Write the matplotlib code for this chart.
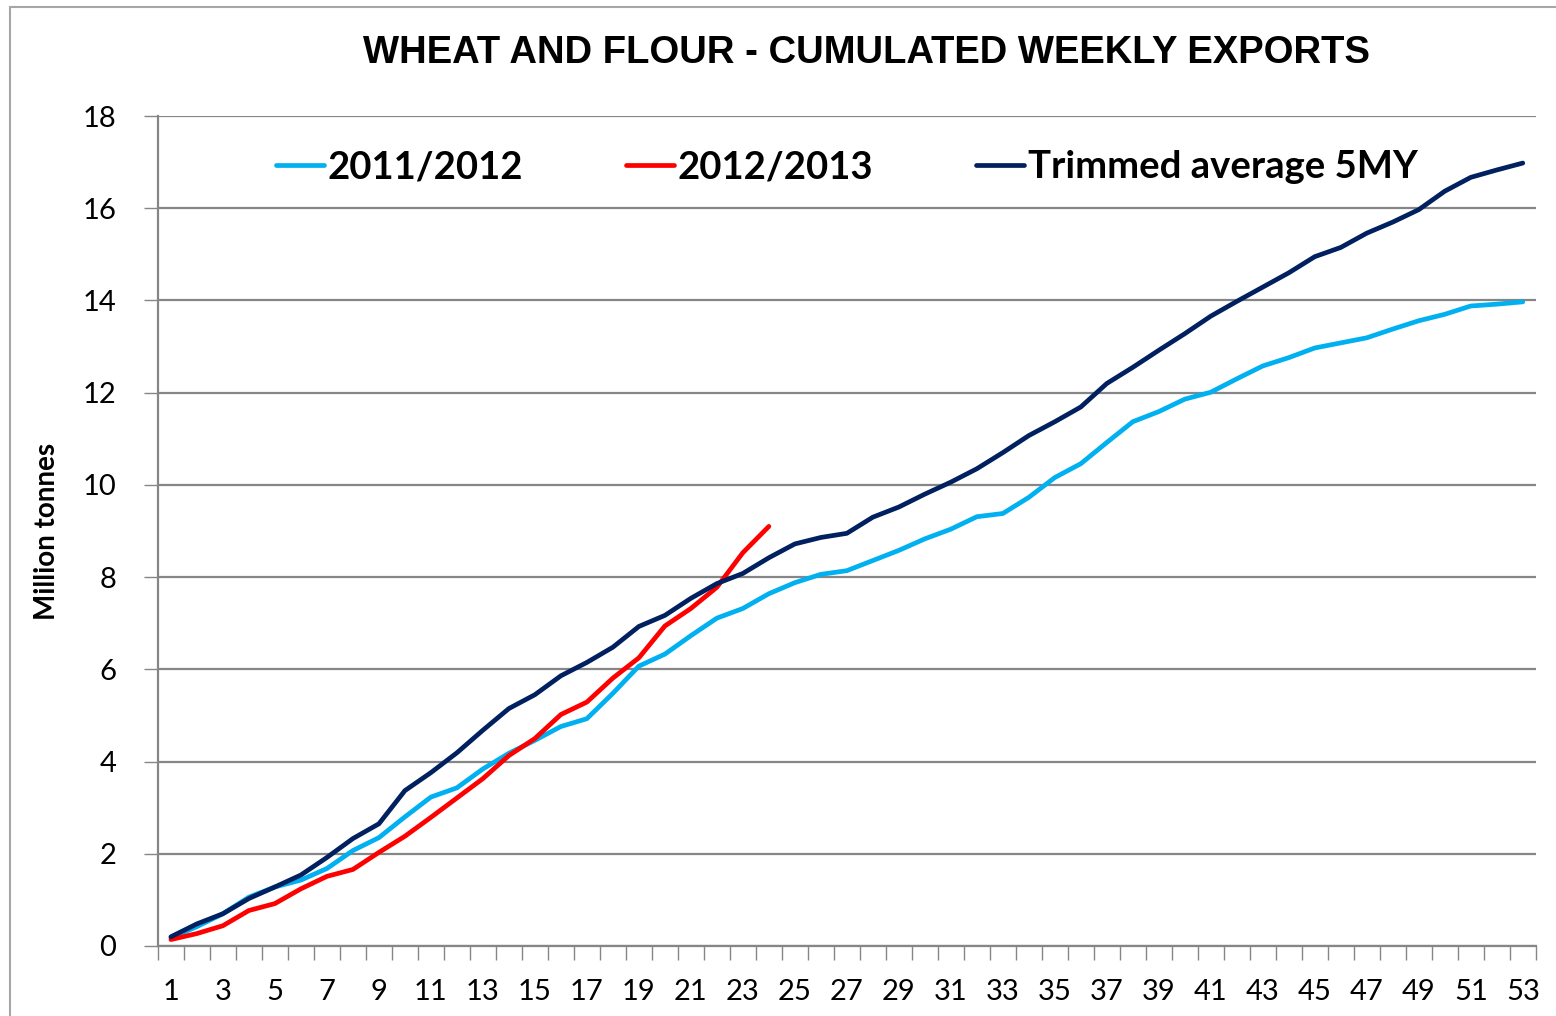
import matplotlib
matplotlib.use("Agg")
import matplotlib.pyplot as plt
from matplotlib.patches import Rectangle
import numpy as np

weeks = list(range(1, 54))

exports_2011_12 = [0.18, 0.42, 0.70, 1.06, 1.28, 1.43, 1.68, 2.07, 2.35, 2.80,
                   3.23, 3.43, 3.84, 4.18, 4.46, 4.76, 4.93, 5.48, 6.07, 6.33,
                   6.73, 7.11, 7.32, 7.64, 7.88, 8.06, 8.14, 8.36, 8.58, 8.83,
                   9.04, 9.31, 9.38, 9.73, 10.16, 10.46, 10.92, 11.37, 11.59, 11.86,
                   12.01, 12.30, 12.58, 12.76, 12.97, 13.08, 13.19, 13.38, 13.56, 13.70,
                   13.88, 13.92, 13.97]

exports_2012_13 = [0.14, 0.27, 0.44, 0.77, 0.92, 1.24, 1.51, 1.66, 2.03, 2.38,
                   2.79, 3.21, 3.63, 4.13, 4.50, 5.02, 5.29, 5.81, 6.25, 6.94,
                   7.32, 7.78, 8.53, 9.10]

trimmed_avg_5my = [0.20, 0.48, 0.70, 1.03, 1.28, 1.54, 1.92, 2.33, 2.65, 3.37,
                   3.76, 4.19, 4.68, 5.15, 5.45, 5.86, 6.15, 6.48, 6.93, 7.17,
                   7.54, 7.86, 8.08, 8.42, 8.72, 8.86, 8.95, 9.30, 9.52, 9.80,
                   10.06, 10.35, 10.70, 11.07, 11.37, 11.69, 12.20, 12.55, 12.92, 13.28,
                   13.66, 13.98, 14.29, 14.60, 14.95, 15.15, 15.46, 15.70, 15.97, 16.37,
                   16.67, 16.83, 16.98]

series_labels = ["2011/2012", "2012/2013", "Trimmed average 5MY"]
colors = ["#00B0F0", "#FF0000", "#002060"]

fig = plt.figure(figsize=(15.56, 10.16), dpi=100)
ax = fig.add_axes([0.1015, 0.0689, 0.8855, 0.8169])

# outer chart frame
fig.patches.append(Rectangle((10 / 1556, -0.01), 1.0, 1 - 7 / 1016 + 0.01,
                             transform=fig.transFigure, fill=False,
                             edgecolor="#A6A6A6", linewidth=1.5))

ax.plot(weeks, exports_2011_12, color=colors[0], lw=3.4, label=series_labels[0],
        solid_capstyle="round", solid_joinstyle="round")
ax.plot(weeks[:len(exports_2012_13)], exports_2012_13, color=colors[1], lw=3.4,
        label=series_labels[1], solid_capstyle="round", solid_joinstyle="round")
ax.plot(weeks, trimmed_avg_5my, color=colors[2], lw=3.4, label=series_labels[2],
        solid_capstyle="round", solid_joinstyle="round")

ax.set_xlim(0.5, 53.5)
ax.set_ylim(0, 18)
ax.set_yticks(np.arange(0, 19, 2))
ax.set_xticks(weeks[::2])
ax.set_xticks(np.arange(0.5, 54, 1), minor=True)
ax.tick_params(axis="x", which="major", length=0, pad=24, labelsize=21)
ax.tick_params(axis="x", which="minor", length=10, width=1, color="#868686", direction="out")
ax.tick_params(axis="y", length=10, width=1, color="#868686", labelsize=21, pad=20)
for lab in ax.get_xticklabels() + ax.get_yticklabels():
    lab.set_family("Lato")

ax.grid(axis="y", color="#868686", lw=1.6)
ax.set_axisbelow(True)
for s in ["top", "right"]:
    ax.spines[s].set_visible(False)
for s in ["left", "bottom"]:
    ax.spines[s].set_color("#868686")
    ax.spines[s].set_linewidth(1.6)

ax.set_ylabel("Million tonnes", fontsize=20, fontweight="bold", family="Lato", labelpad=16)

fig.text(0.5566, 0.948, "WHEAT AND FLOUR - CUMULATED WEEKLY EXPORTS", ha="center", va="center",
         fontsize=27.5, fontweight="bold", family="Liberation Sans")

ax.legend(loc="upper center", bbox_to_anchor=(0.5, 1.0), ncol=3, frameon=False,
          prop={"family": "Lato", "weight": "bold", "size": 27.5},
          handlelength=1.25, handletextpad=0.1, columnspacing=2.7)

fig.savefig("out.png", dpi=100)
